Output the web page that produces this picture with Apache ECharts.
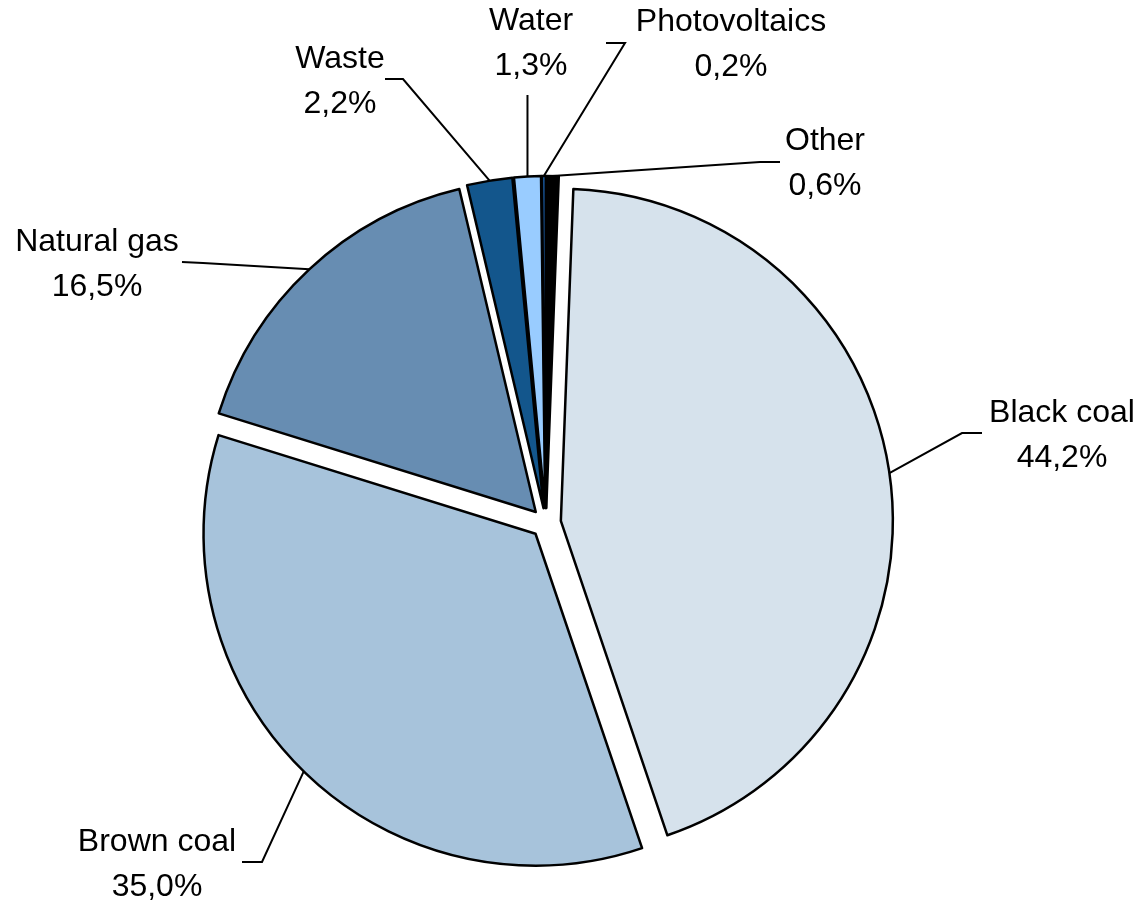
<!DOCTYPE html>
<html>
<head>
<meta charset="utf-8">
<script src="https://cdn.jsdelivr.net/npm/echarts@6/dist/echarts.min.js"></script>
<style>html,body{margin:0;padding:0;background:#fff}#c{width:1143px;height:903px}</style>
</head>
<body>
<div id="c"></div>
<script>
const categories = ['Other', 'Black coal', 'Brown coal', 'Natural gas', 'Waste', 'Water', 'Photovoltaics'];
const shares = [0.6, 44.2, 35.0, 16.5, 2.2, 1.3, 0.2];
const colors = ['#000000', '#D6E2EC', '#A7C3DB', '#678DB2', '#13568C', '#99CCFF', '#17508F'];

// layout only: [labelCenterX, labelCenterY, elbowX, elbowY, endX, endY]
const labelPlaces = [
  [825, 164, 760, 162, 780, 162],
  [1062, 436, 962, 433, 982, 433],
  [157, 865, 262, 862, 242, 862],
  [97, 265, 203, 263, 182, 262],
  [340, 82, 403, 79, 385, 79],
  [531, 44, null, 95, null, null],
  [731, 45, 625, 43, 606, 43]
];

const CENTER = [546, 523];
const R = 332;
const OFFSET = 15;

const chart = echarts.init(document.getElementById('c'), null, {renderer: 'canvas'});

const sliceData = categories.map((n, i) => ({
  name: n,
  value: shares[i],
  selected: true,
  itemStyle: {color: colors[i]},
  select: {itemStyle: {color: colors[i], borderColor: '#000', borderWidth: 2.5}}
}));
const labelData = categories.map((n, i) => ({name: n, value: shares[i]}));

chart.setOption({
  animation: false,
  backgroundColor: '#fff',
  series: [{
    type: 'pie',
    center: CENTER,
    radius: R,
    startAngle: 90,
    clockwise: true,
    selectedMode: 'multiple',
    selectedOffset: OFFSET,
    minAngle: 0,
    itemStyle: {borderColor: '#000', borderWidth: 2.5},
    emphasis: {disabled: true},
    label: {show: false},
    labelLine: {show: false},
    data: sliceData
  }, {
    type: 'pie',
    center: CENTER,
    radius: R,
    startAngle: 90,
    clockwise: true,
    silent: true,
    selectedMode: false,
    avoidLabelOverlap: false,
    minAngle: 0,
    z: 3,
    itemStyle: {color: 'rgba(0,0,0,0)', borderWidth: 0},
    emphasis: {disabled: true},
    label: {
      show: true,
      position: 'outside',
      color: '#000',
      fontSize: 32,
      fontFamily: 'Liberation Sans, Arial, sans-serif',
      lineHeight: 45,
      align: 'center',
      formatter: p => p.name + '\n' + p.value.toFixed(1).replace('.', ',') + '%'
    },
    labelLine: {show: true, length: 20, length2: 20, lineStyle: {color: '#000', width: 2}},
    labelLayout: function (params) {
      const lp = labelPlaces[params.dataIndex];
      const out = {x: lp[0], y: lp[1], align: 'center', verticalAlign: 'middle'};
      const p0 = params.labelLinePoints && params.labelLinePoints[0];
      if (p0) {
        const vx = p0[0] - CENTER[0], vy = p0[1] - CENTER[1];
        const len = Math.sqrt(vx * vx + vy * vy) || 1;
        const k = (len + OFFSET) / len;
        const start = [CENTER[0] + vx * k, CENTER[1] + vy * k];
        out.labelLinePoints = lp[4] == null
          ? [start, [start[0], lp[3]]]
          : [start, [lp[2], lp[3]], [lp[4], lp[5]]];
      }
      return out;
    },
    data: labelData
  }]
});
</script>
</body>
</html>
